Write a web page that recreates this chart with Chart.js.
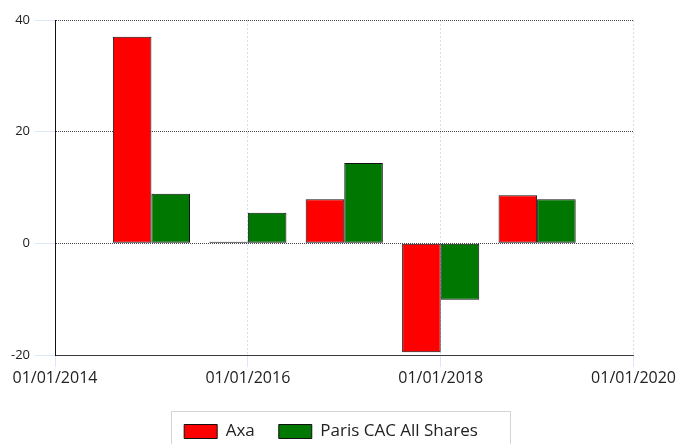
<!DOCTYPE html>
<html>
<head>
<meta charset="utf-8">
<script src="https://cdn.jsdelivr.net/npm/chart.js@4/dist/chart.umd.min.js"></script>
<style>
  html, body { margin: 0; padding: 0; background: #fff; overflow: hidden; }
  #wrap { width: 678px; height: 450px; }
</style>
</head>
<body>
<div id="wrap"><canvas id="c" width="678" height="450"></canvas></div>
<script>
// ---- data ----
const dates = ['01/01/2015', '01/01/2016', '01/01/2017', '01/01/2018', '01/01/2019'];
const seriesNames = ['Axa', 'Paris CAC All Shares'];
const axaValues = [37.0, 0.3, 7.9, -19.5, 8.6];
const cacValues = [8.9, 5.5, 14.4, -10.1, 7.9];
const xTickYears = [2014, 2016, 2018, 2020];
const yTicks = [-20, 0, 20, 40];

const years = dates.map(d => parseInt(d.split('/')[2], 10));
const toPoints = vals => vals.map((v, i) => ({ x: years[i], y: v }));

const FONT = "'Open Sans', 'Noto Sans', sans-serif";

const legendFrame = {
  id: 'legendFrame',
  afterDraw(chart) {
    const lg = chart.legend;
    if (!lg || !lg.legendHitBoxes || !lg.legendHitBoxes.length) return;
    const hb = lg.legendHitBoxes;
    const first = hb[0], last = hb[hb.length - 1];
    const x0 = Math.round(first.left - 13) + 0.5;
    const x1 = Math.round(last.left + last.width + 32) + 0.5;
    const y0 = Math.round(first.top - 12) + 0.5;
    const ctx = chart.ctx;
    ctx.save();
    ctx.strokeStyle = '#d4d4d4';
    ctx.lineWidth = 1;
    ctx.strokeRect(x0, y0, x1 - x0, 80);
    ctx.restore();
  }
};

new Chart(document.getElementById('c'), {
  type: 'bar',
  data: {
    datasets: [
      {
        label: seriesNames[0],
        data: toPoints(axaValues),
        backgroundColor: '#ff0000',
        borderColor: '#111111',
        borderWidth: 1,
        borderSkipped: false
      },
      {
        label: seriesNames[1],
        data: toPoints(cacValues),
        backgroundColor: '#007700',
        borderColor: '#111111',
        borderWidth: 1,
        borderSkipped: false
      }
    ]
  },
  options: {
    responsive: false,
    animation: false,
    devicePixelRatio: 1,
    categoryPercentage: 0.8,
    barPercentage: 1.0,
    layout: { padding: { left: 0, right: 16, top: 20, bottom: 0 } },
    plugins: {
      tooltip: { enabled: false },
      legend: {
        position: 'bottom',
        labels: {
          font: { family: FONT, size: 17 },
          color: '#222',
          boxWidth: 33,
          boxHeight: 14,
          padding: 24
        }
      }
    },
    scales: {
      x: {
        type: 'linear',
        offset: false,
        min: 2014,
        max: 2020,
        afterBuildTicks: s => { s.ticks = xTickYears.map(v => ({ value: v })); },
        afterFit: s => { s.height = 44; },
        ticks: {
          callback: v => '01/01/' + v,
          font: { family: FONT, size: 16 },
          color: '#222',
          padding: 2,
          maxRotation: 0,
          autoSkip: false
        },
        grid: {
          offset: false,
          color: '#cfe0f3',
          tickColor: '#dbe8f7',
          tickBorderDash: [],
          tickLength: 12,
          lineWidth: 1
        },
        border: { display: true, color: '#3a3a3a', width: 1, dash: [2, 2] }
      },
      y: {
        min: -20,
        max: 40,
        afterBuildTicks: s => { s.ticks = yTicks.map(v => ({ value: v })); },
        afterFit: s => { s.width = 55; },
        ticks: {
          font: { family: FONT, size: 13 },
          color: '#222',
          padding: 5
        },
        grid: {
          color: '#444444',
          tickColor: '#dbe8f7',
          tickBorderDash: [],
          tickLength: 20,
          lineWidth: 1
        },
        border: { display: true, color: '#111', width: 1, dash: [1, 1] }
      }
    }
  },
  plugins: [legendFrame]
});
</script>
</body>
</html>
